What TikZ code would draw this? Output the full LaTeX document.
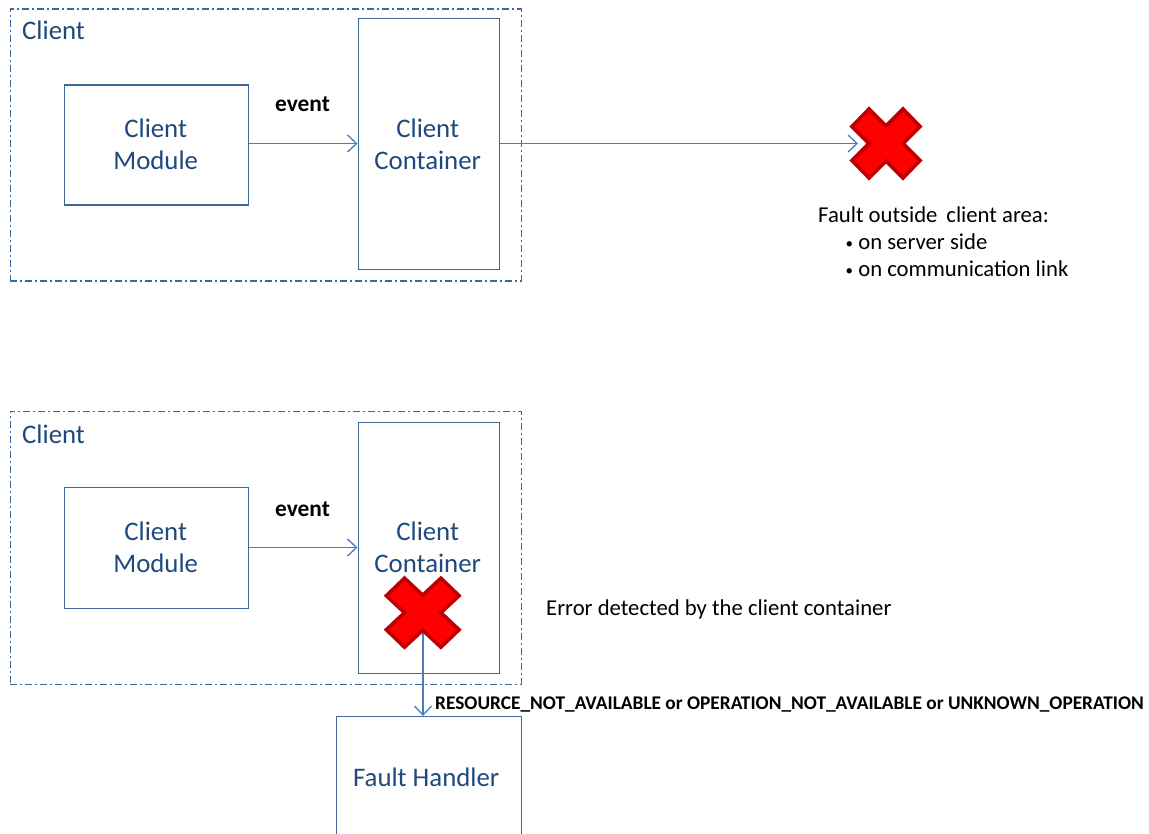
\documentclass[tikz,border=0pt]{standalone}
\usepackage{fontspec}
\setmainfont{Carlito}
\usetikzlibrary{arrows.meta}
\definecolor{boxline}{HTML}{3F6797}
\definecolor{boxtext}{HTML}{1F497D}
\definecolor{arrowline}{HTML}{4A7EBB}
\definecolor{crossfill}{HTML}{FF0000}
\definecolor{crossline}{HTML}{C00000}
\tikzset{
  x=1pt,y=-1pt,
  box/.style={draw=boxline,line width=1.4pt,inner sep=0pt,align=center,text=boxtext,font=\fontsize{26.8}{32}\selectfont,anchor=north west},
  area/.style={draw=boxline,line width=1.3pt,dash pattern=on 7pt off 3pt on 2pt off 3pt,inner sep=0pt,anchor=north west},
  areatitle/.style={text=boxtext,font=\fontsize{26.8}{30}\selectfont,inner sep=0pt,anchor=base west},
  flow/.style={draw=arrowline,line width=1.3pt,-{Straight Barb[length=9pt,width=17pt,line width=1.3pt]}},
  lab/.style={text=black,font=\fontsize{23.4}{26}\selectfont\bfseries,inner sep=0pt,anchor=base west},
  note/.style={text=black,font=\fontsize{22.7}{27}\selectfont,inner sep=0pt,anchor=base west},
  faultx/.style={draw=crossline,fill=crossfill,line width=3.6pt,miter limit=10},
}
\newcommand{\faultcross}[3]{%
  \draw[faultx,shift={(#1,#2)},xscale=#3]
    (-17,-34.5) -- (0,-17.5) -- (17,-34.5) -- (34,-17) -- (17,0) -- (34,17) -- (17,34.5)
    -- (0,17.5) -- (-17,34.5) -- (-34,17) -- (-17,0) -- (-34,-17) -- cycle;}
\begin{document}
\begin{tikzpicture}
\useasboundingbox (0,0) rectangle (1149,834);
\clip (0,0) rectangle (1149,834);
% top panel
\node[area,minimum width=511pt,minimum height=272pt] (area1) at (9.5,8.5) {};
\node[areatitle] (title1) at (22,39.5) {Client};
\node[box,minimum width=184pt,minimum height=120pt] (mod1) at (63.5,84.5) {};
\node[box,draw=none,minimum width=184pt,minimum height=120pt] (mod1t) at (63,83.5) {Client\\Module};
\node[box,minimum width=141pt,minimum height=251pt] (cont1) at (357.5,18) {};
\node[box,draw=none,minimum width=141pt,minimum height=120pt] (cont1t) at (356.5,83.5) {Client\\Container};
\node[lab] (ev1) at (275,112) {event};
\coordinate (hit1) at (858,143.5);
\draw[flow] (mod1.east |- 0,143.5) -- (cont1.west |- 0,143.5);
\draw[flow] (cont1.east |- 0,143.5) -- (hit1);
\faultcross{886}{143.5}{1}
\node[note] (n1) at (818,223) {Fault outside\, client area:};
\node[note] (n2) at (845.5,250) {\raisebox{1.5pt}{\fontsize{15}{15}\selectfont•} on server side};
\node[note] (n3) at (845.5,277) {\raisebox{1.5pt}{\fontsize{15}{15}\selectfont•} on communication link};
% bottom panel
\node[area,minimum width=511pt,minimum height=273pt] (area2) at (9.5,410.5) {};
\node[areatitle] (title2) at (22,443) {Client};
\node[box,minimum width=184pt,minimum height=121pt] (mod2) at (63.5,487) {};
\node[box,draw=none,minimum width=184pt,minimum height=121pt] (mod2t) at (63,486) {Client\\Module};
\node[box,minimum width=141pt,minimum height=251pt] (cont2) at (357.5,422) {};
\node[box,draw=none,minimum width=141pt,minimum height=121pt] (cont2t) at (356.5,486) {Client\\Container};
\node[lab] (ev2) at (275,516) {event};
\node[box,minimum width=185pt,minimum height=124pt] (fh) at (335.5,716) {};
\node[box,draw=none,minimum width=185pt,minimum height=124pt] (fht) at (333,715) {Fault Handler};
\coordinate (hit2) at (423,625);
\draw[flow] (mod2.east |- 0,547.5) -- (cont2.west |- 0,547.5);
\draw[flow] (hit2) -- (hit2 |- fh.north);
\faultcross{422.7}{612.7}{1.07}
\node[note] (n4) at (546,615) {Error detected by the client container};
\node[lab,font=\fontsize{19.33}{22}\selectfont\bfseries] (n5) at (435,709) {RESOURCE\_NOT\_AVAILABLE or OPERATION\_NOT\_AVAILABLE or UNKNOWN\_OPERATION};
\end{tikzpicture}
\end{document}
